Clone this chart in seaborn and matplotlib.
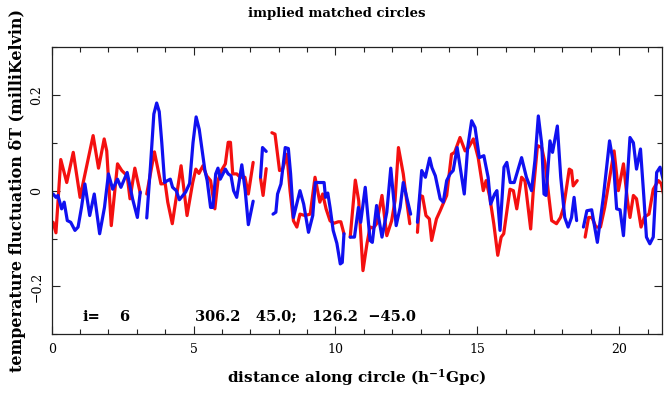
import numpy as np
import pandas as pd
import seaborn as sns
import matplotlib.pyplot as plt
from matplotlib.ticker import MultipleLocator

# distance along circle (h^-1 Gpc) and dT (mK), nan = gap in the circle
red_d = [0.05, 0.15, 0.32, 0.53, 0.76, 1.0, 1.46, 1.65, 1.85, 1.94, 2.10, 2.32, 2.47, 2.66, 2.76, 2.93, 3.12, np.nan,
         3.35, 3.62, 3.85, 4.0, 4.09, 4.25, 4.56, 4.77, 4.97, 5.08, 5.19, 5.33, 5.46, 5.6, 5.75, 5.86, 5.98,
         6.12, 6.22, 6.30, 6.38, 6.52, 6.64, 6.81, 6.93, 7.10, np.nan,
         7.36, 7.45, 7.56, np.nan,
         7.76, 7.87, 8.03, 8.14, 8.29, 8.40, 8.52, 8.64, 8.75, 8.93, 9.11, 9.28, 9.45, 9.55, 9.67, 9.81, 9.95,
         10.10, 10.19, 10.30, np.nan,
         10.52, 10.70, 10.82, 10.97, 11.11, 11.22, 11.34, 11.45, 11.64, 11.81, 11.98, 12.10, 12.22, 12.39,
         12.51, 12.62, np.nan,
         12.89, 12.98, 13.07, 13.19, 13.31, 13.39, 13.56, 13.69, 13.92, 14.09, 14.20, 14.39, 14.57, 14.69,
         14.86, 15.03, 15.21, 15.31, 15.44, 15.58, 15.72, 15.84, 15.93, 16.15, 16.27, 16.39, 16.56, 16.68,
         16.88, 16.97, 17.12, 17.27, 17.39, 17.51, 17.62, 17.79, 17.93, 18.04, 18.24, 18.32, 18.38, 18.52, np.nan,
         18.80, 18.92, 19.04, 19.18, 19.34, 19.49, 19.82, 19.97, 20.15, 20.29, 20.38, 20.50, 20.61, 20.77,
         20.89, 21.05, 21.20, 21.38, 21.48, 21.6]
red_v = [-0.066, -0.088, 0.065, 0.017, 0.08, -0.014, 0.115, 0.047, 0.108, 0.083, -0.073, 0.056, 0.042, 0.031, -0.017, 0.047, -0.005, np.nan,
         -0.007, 0.081, 0.014, 0.015, -0.024, -0.069, 0.052, -0.052, 0.017, 0.045, 0.036, 0.052, 0.031, 0.021, -0.038, 0.021, 0.042,
         0.056, 0.101, 0.101, 0.035, 0.035, 0.028, 0.028, -0.007, 0.059, np.nan,
         0.026, -0.01, 0.046, np.nan,
         0.121, 0.118, 0.042, 0.045, 0.076, 0.0, -0.063, -0.076, -0.049, -0.052, -0.049, 0.028, -0.024, -0.007, -0.038, -0.063, -0.068,
         -0.065, -0.065, -0.09, np.nan,
         -0.097, 0.022, -0.021, -0.167, -0.111, -0.076, -0.078, -0.069, -0.01, -0.094, -0.063, -0.021, 0.09, 0.035,
         -0.021, -0.069, np.nan,
         -0.087, -0.01, -0.012, -0.052, -0.059, -0.104, -0.059, -0.042, -0.01, 0.076, 0.08, 0.111, 0.083, 0.09,
         0.108, 0.069, 0.0, 0.021, -0.014, -0.069, -0.135, -0.097, -0.09, 0.003, 0.0, -0.038, 0.028, 0.02,
         -0.08, -0.002, 0.094, 0.09, 0.056, -0.007, -0.0625, -0.069, -0.056, -0.035, 0.045, 0.042, 0.01, 0.021, np.nan,
         -0.097, -0.056, -0.056, -0.076, -0.076, -0.035, 0.083, 0.0, 0.056, -0.02, -0.056, -0.01, -0.017, -0.076,
         -0.055, -0.049, 0.003, 0.021, 0.015, -0.017]

blue_d = [0.05, 0.15, 0.22, 0.35, 0.44, 0.55, 0.67, 0.82, 0.93, 1.05, 1.17, 1.34, 1.50, 1.69, 1.86, 2.0, 2.15, 2.32, 2.44,
          2.66, 2.85, 3.02, 3.12, np.nan,
          3.35, 3.48, 3.60, 3.70, 3.79, 3.88, 3.98, 4.05, 4.18, 4.26, 4.39, 4.50, 4.72, 4.86, 4.98, 5.09, 5.2, 5.4,
          5.48, 5.6, 5.68, 5.78, 5.86, 5.94, 6.12, 6.22, 6.32, 6.41, 6.52, 6.70, 6.82, 6.93, 7.10, np.nan,
          7.36, 7.43, 7.56, np.nan,
          7.80, 7.90, 7.96, 8.08, 8.23, 8.34, 8.42, 8.52, 8.75, 8.88, 9.05, 9.20, 9.29, 9.45, 9.60, 9.65, 9.73,
          9.81, 9.92, 10.05, 10.17, 10.24, 10.30, np.nan,
          10.52, 10.67, 10.81, 10.89, 11.05, 11.22, 11.30, 11.45, 11.64, 11.81, 11.95, 12.14, 12.28, 12.39, 12.65, np.nan,
          12.89, 13.04, 13.17, 13.32, 13.40, 13.52, 13.69, 13.80, 13.92, 14.04, 14.15, 14.29, 14.54, 14.66, 14.80,
          14.92, 15.07, 15.23, 15.38, 15.47, 15.61, 15.69, 15.80, 15.94, 16.04, 16.16, 16.30, 16.56, 16.73, 16.91,
          17.03, 17.15, 17.27, 17.35, 17.42, 17.56, 17.65, 17.82, 17.94, 18.08, 18.20, 18.32, 18.41, 18.50, np.nan,
          18.74, 18.86, 19.03, 19.23, 19.44, 19.66, 19.80, 19.91, 20.03, 20.15, 20.29, 20.38, 20.50, 20.61, 20.75,
          20.87, 20.96, 21.08, 21.20, 21.32, 21.44, 21.56]
blue_v = [-0.007, -0.014, -0.01, -0.038, -0.024, -0.0625, -0.066, -0.083, -0.076, -0.035, 0.014, -0.052, -0.007, -0.09, -0.035, 0.035, 0.003, 0.024, 0.007,
          0.038, -0.017, -0.056, -0.003, np.nan,
          -0.057, 0.05, 0.16, 0.183, 0.165, 0.1, 0.017, 0.02, 0.024, 0.007, 0.0, -0.019, -0.003, 0.015, 0.1, 0.154, 0.128, 0.042,
          0.021, -0.035, -0.035, 0.035, 0.047, 0.024, 0.045, 0.035, 0.031, 0.0, -0.014, 0.054, 0.0, -0.071, -0.022, np.nan,
          0.028, 0.09, 0.082, np.nan,
          -0.049, -0.045, -0.007, 0.014, 0.09, 0.088, 0.035, -0.056, 0.0, -0.028, -0.087, -0.052, 0.017, 0.017, 0.017, -0.014, -0.005,
          -0.035, -0.083, -0.11, -0.153, -0.15, -0.09, np.nan,
          -0.097, -0.097, -0.035, -0.066, 0.007, -0.104, -0.108, -0.031, -0.097, -0.045, 0.047, -0.073, -0.035, 0.017, -0.049, np.nan,
          -0.066, 0.042, 0.028, 0.068, 0.048, 0.031, -0.017, -0.024, 0.021, 0.035, 0.042, 0.09, -0.007, 0.09, 0.146,
          0.132, 0.069, 0.073, 0.028, -0.028, -0.007, 0.0, -0.083, 0.049, 0.059, 0.017, 0.017, 0.069, 0.028, 0.0,
          0.0625, 0.156, 0.097, -0.007, -0.01, 0.104, 0.08, 0.135, 0.028, -0.056, -0.076, -0.056, -0.014, -0.0625, np.nan,
          -0.076, -0.042, -0.04, -0.108, -0.014, 0.104, 0.056, -0.038, -0.04, -0.094, 0.028, 0.111, 0.1, 0.045, 0.087,
          -0.014, -0.097, -0.111, -0.097, 0.038, 0.049, 0.021]

circle_colors = {"a": "#f41010", "b": "#1010f0"}


def to_frame(d, v, name):
    df = pd.DataFrame({"d": d, "v": v})
    # each nan starts a new piece of the circle
    df["seg"] = df["v"].isna().cumsum()
    df["circle"] = name
    return df.dropna()


data = pd.concat([to_frame(red_d, red_v, "a"), to_frame(blue_d, blue_v, "b")], ignore_index=True)
data["unit"] = data["circle"] + data["seg"].astype(str)

sns.set_theme(style="ticks")
plt.rcParams["font.family"] = ["DejaVu Serif"]
plt.rcParams["mathtext.fontset"] = "dejavuserif"
for k in ["text.color", "axes.labelcolor", "xtick.color", "ytick.color"]:
    plt.rcParams[k] = "black"

fig = plt.figure(figsize=(6.67, 3.94), dpi=100)
ax = fig.add_axes([0.0775, 0.1515, 0.9155, 0.7292])

sns.lineplot(data=data, x="d", y="v", hue="circle", units="unit", estimator=None, sort=False,
             palette=circle_colors, linewidth=2.3, legend=False, ax=ax)

ax.set_xlim(0, 21.52)
ax.set_ylim(-0.3, 0.3)
ax.xaxis.set_major_locator(MultipleLocator(5))
ax.xaxis.set_minor_locator(MultipleLocator(1))
ax.yaxis.set_major_locator(MultipleLocator(0.2))
ax.yaxis.set_minor_locator(MultipleLocator(0.1))
ax.set_yticks([-0.2, 0, 0.2])
ax.set_yticklabels(["\u22120.2", "0", "0.2"], rotation=90, va="center")
ax.set_xticks([0, 5, 10, 15, 20])
ax.set_xticklabels(["0", "5", "10", "15", "20"])
ax.tick_params(which="both", direction="in", top=True, right=True, labelsize=9, color="#222222", width=0.8)
ax.tick_params(which="major", length=6, pad=6)
ax.tick_params(which="minor", length=3.5)
for s in ax.spines.values():
    s.set_linewidth(0.9)
    s.set_color("#222222")

ax.set_xlabel("distance along circle (h$^{\\mathbf{-1}}$Gpc)", fontsize=11, fontweight="bold", labelpad=8)
ax.set_ylabel("temperature fluctuation \u03b4T (milliKelvin)", fontsize=11.5, fontweight="bold", labelpad=3)
fig.text(0.505, 0.965, "implied matched circles", ha="center", va="center", fontsize=9.5, fontweight="bold")

ax.text(1.10, -0.263, "i=", fontsize=10.5, fontweight="bold", va="center")
ax.text(2.37, -0.263, "6", fontsize=10.5, fontweight="bold", va="center")
ax.text(5.05, -0.263, "306.2   45.0;   126.2  \u221245.0", fontsize=10.5, fontweight="bold", va="center")

fig.savefig("out.png", dpi=100)
